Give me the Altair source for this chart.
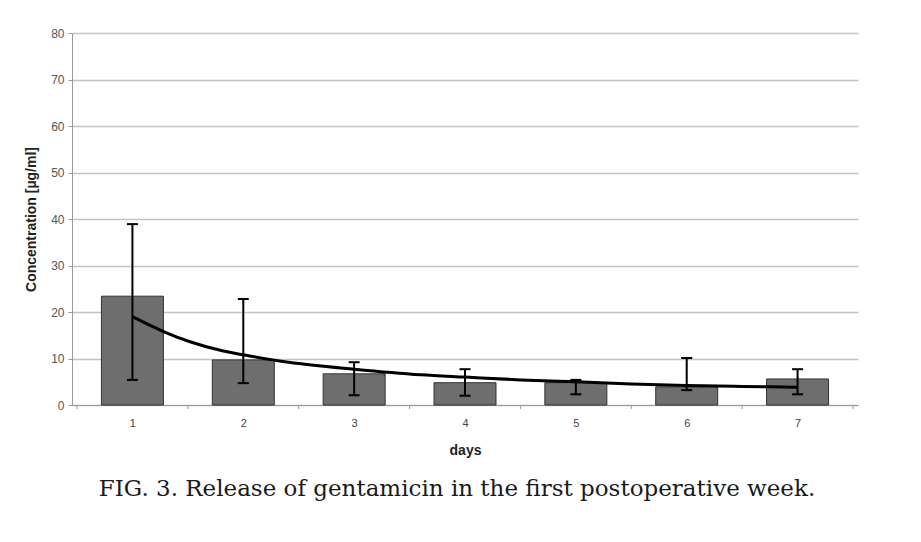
import altair as alt
import pandas as pd

# ---- data ----
days = [1, 2, 3, 4, 5, 6, 7]
means = [23.4, 9.7, 6.7, 4.8, 4.8, 3.9, 5.6]
err_low = [5.4, 4.7, 2.1, 2.0, 2.3, 3.2, 2.3]
err_high = [38.9, 22.8, 9.2, 7.7, 5.4, 10.1, 7.7]

trend_days = [1.0, 1.28, 1.52, 1.82, 2.0, 2.41, 3.0, 3.6, 4.0, 4.5, 5.0, 5.5, 6.0, 6.5, 7.0]
trend_vals = [19.0, 15.8, 13.6, 11.6, 10.8, 9.2, 7.7, 6.5, 6.0, 5.4, 5.0, 4.5, 4.2, 4.0, 3.8]

y_ticks = [0, 10, 20, 30, 40, 50, 60, 70, 80]
x_boundaries = [0.5, 1.5, 2.5, 3.5, 4.5, 5.5, 6.5, 7.5]
caption = "FIG. 3. Release of gentamicin in the first postoperative week."

df = pd.DataFrame({"day": days, "mean": means, "lo": err_low, "hi": err_high})
trend = pd.DataFrame({"day": trend_days, "value": trend_vals})
bounds = pd.DataFrame({"day": x_boundaries})
cap_df = pd.DataFrame({"t": [caption]})

xs = alt.Scale(domain=[0.5, 7.5], nice=False, zero=False)
ys = alt.Scale(domain=[0, 80], nice=False)

x_axis = alt.Axis(
    values=days, format="d", grid=False, ticks=False,
    labelFont="Liberation Sans", labelFontSize=11, labelColor="#444",
    labelPadding=12, domainColor="#999", domainWidth=1,
    title="days", titleFont="Liberation Sans", titleFontSize=14,
    titleFontWeight="bold", titleColor="#222",
    titleY=49, titleBaseline="alphabetic",
)
y_axis = alt.Axis(
    values=y_ticks, grid=True, gridColor="#c4c4c4", gridWidth=1.5,
    domainColor="#999", domainWidth=1, tickColor="#999", tickSize=4,
    labelFont="Liberation Sans", labelFontSize=12, labelColor="#555",
    labelPadding=4,
    title="Concentration [µg/ml]", titleFont="Liberation Sans",
    titleFontSize=14, titleFontWeight="bold", titleColor="#222",
    titleX=-41, titleY=186, titleAngle=-90, titleAlign="center",
    titleBaseline="middle",
)


def X(field):
    return alt.X(field, scale=xs, axis=x_axis, title="days")


def Y(field):
    return alt.Y(field, scale=ys, axis=y_axis, title="Concentration [µg/ml]")


bars = alt.Chart(df).mark_bar(size=62, color="#6e6e6e", stroke="#333", strokeWidth=1).encode(
    x=X("day:Q"), y=Y("mean:Q"),
)

err = alt.Chart(df).mark_rule(color="#000", strokeWidth=2).encode(
    x=X("day:Q"), y=Y("lo:Q"), y2="hi:Q",
)
cap_hi = alt.Chart(df).mark_tick(orient="horizontal", size=11, thickness=2, color="#000", opacity=1).encode(
    x=X("day:Q"), y=Y("hi:Q"),
)
cap_lo = alt.Chart(df).mark_tick(orient="horizontal", size=11, thickness=2, color="#000", opacity=1).encode(
    x=X("day:Q"), y=Y("lo:Q"),
)

trend_line = alt.Chart(trend).mark_line(color="#000", strokeWidth=3, interpolate="monotone").encode(
    x=X("day:Q"), y=Y("value:Q"),
)

bticks = alt.Chart(bounds).mark_rule(color="#999", strokeWidth=1).encode(
    x=X("day:Q"),
    y=alt.value(372),
    y2=alt.value(376),
)

cap_text = alt.Chart(cap_df).mark_text(
    font="DejaVu Serif", fontSize=23, color="#1a1a1a",
    align="center", baseline="alphabetic",
).encode(text="t:N", x=alt.value(385), y=alt.value(463))

chart = alt.layer(bars, bticks, err, cap_hi, cap_lo, trend_line, cap_text).properties(
    width=786, height=372,
    autosize=alt.AutoSizeParams(type="none"),
    padding={"left": 64, "top": 25, "right": 55, "bottom": 129},
    background="white",
).configure_view(stroke=None)

chart.save("out.html", embed_options={"renderer": "svg", "actions": False})
